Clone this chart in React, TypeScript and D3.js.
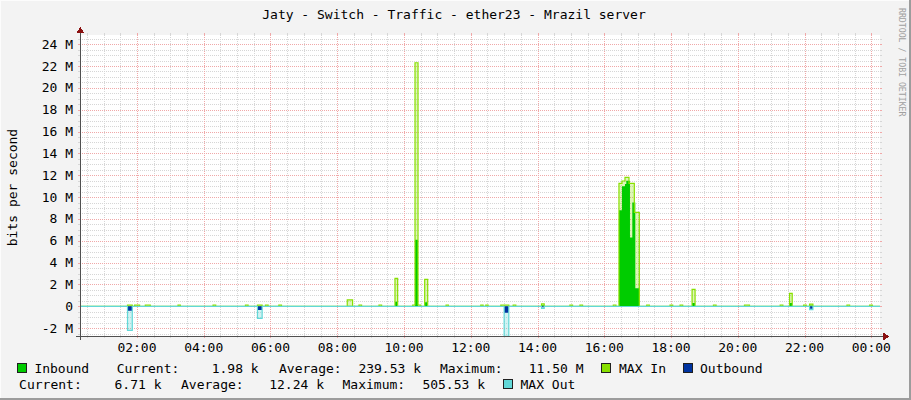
import React from 'react';
import * as d3 from 'd3';

const W = 911;
const H = 400;

const title = 'Jaty - Switch - Traffic - ether23 - Mrazil server';
const yAxisTitle = 'bits per second';
const credit = 'RRDTOOL / TOBI OETIKER';

const xTickHours = [2, 4, 6, 8, 10, 12, 14, 16, 18, 20, 22, 24];
const xTickLabels = ['02:00', '04:00', '06:00', '08:00', '10:00', '12:00', '14:00', '16:00', '18:00', '20:00', '22:00', '00:00'];
const yTickValues = [-2, 0, 2, 4, 6, 8, 10, 12, 14, 16, 18, 20, 22, 24];
const yTickLabels = ['-2 M', '0', '2 M', '4 M', '6 M', '8 M', '10 M', '12 M', '14 M', '16 M', '18 M', '20 M', '22 M', '24 M'];

// events (hours of day), values in Mbit/s; each value holds from start to end
const evStart = [1.717, 1.93, 2.25, 3.23, 4.28, 5.25, 5.61, 5.85, 6.25, 8.30, 8.65, 9.25, 9.73, 10.26, 10.33, 10.42, 10.62, 11.26, 12.30, 12.45, 12.90, 13.0, 13.27, 14.12, 14.97, 15.27, 16.27,
  16.44, 16.53, 16.62, 16.66, 16.74, 16.77, 16.84, 16.90, 16.93,
  17.27, 17.97, 18.27, 18.63, 19.27, 20.20, 21.27, 21.55, 21.97, 22.15, 23.27, 23.95];
const evEnd = [1.86, 2.08, 2.40, 3.30, 4.36, 5.33, 5.75, 5.93, 6.33, 8.46, 8.73, 9.33, 9.81, 10.33, 10.42, 10.50, 10.71, 11.33, 12.37, 12.52, 13.0, 13.14, 13.35, 14.20, 15.05, 15.35, 16.35,
  16.53, 16.62, 16.66, 16.74, 16.77, 16.84, 16.90, 16.93, 17.05,
  17.35, 18.05, 18.35, 18.72, 19.35, 20.35, 21.35, 21.63, 22.05, 22.25, 23.35, 24.03];
const inboundM = [0.03, 0.04, 0.04, 0.04, 0.04, 0.04, 0.03, 0.04, 0.04, 0.05, 0.04, 0.04, 0.42, 0.04, 6.1, 0.04, 0.37, 0.04, 0.04, 0.04, 0.04, 0.05, 0.04, 0.1, 0.04, 0.04, 0.04,
  8.8, 11.0, 11.2, 11.5, 11.5, 6.3, 9.5, 9.5, 1.65,
  0.04, 0.04, 0.04, 0.3, 0.04, 0.04, 0.04, 0.3, 0.04, 0.08, 0.04, 0.04];
const maxInM = [0.1, 0.12, 0.12, 0.12, 0.12, 0.12, 0.1, 0.12, 0.12, 0.58, 0.12, 0.12, 2.56, 0.12, 22.3, 0.12, 2.47, 0.12, 0.12, 0.12, 0.12, 0.12, 0.12, 0.22, 0.12, 0.12, 0.12,
  11.25, 11.47, 11.8, 11.8, 11.25, 11.25, 11.25, 8.6, 8.6,
  0.12, 0.12, 0.12, 1.55, 0.12, 0.12, 0.12, 1.19, 0.12, 0.2, 0.12, 0.12];
const outboundM = [-0.4, 0, 0, 0, 0, 0, -0.34, 0, 0, 0, 0, 0, 0, 0, 0, 0, 0, 0, 0, 0, 0, -0.59, 0, -0.08, 0, 0, 0,
  0, 0, 0, 0, 0, 0, 0, 0, 0,
  0, 0, 0, 0, 0, 0, 0, 0, 0, -0.22, 0, 0];
const maxOutM = [-2.2, -0.02, -0.02, -0.02, -0.02, -0.02, -1.1, -0.02, -0.02, -0.02, -0.02, -0.02, -0.02, -0.02, -0.02, -0.02, -0.02, -0.02, -0.02, -0.02, -0.02, -3.5, -0.02, -0.2, -0.02, -0.02, -0.02,
  -0.02, -0.02, -0.02, -0.02, -0.02, -0.02, -0.02, -0.02, -0.02,
  -0.02, -0.02, -0.02, -0.02, -0.02, -0.02, -0.02, -0.02, -0.02, -0.3, -0.02, -0.02];

const inboundStats = ['1.98 k', '239.53 k', '11.50 M'];
const outboundStats = ['6.71 k', '12.24 k', '505.53 k'];

const C = {
  back: '#f3f3f3',
  canvas: '#ffffff',
  inbound: '#00cc00',
  maxIn: '#88e000',
  outbound: '#0033a0',
  maxOut: '#62d8d8',
  grid: '#d6d6d6',
  mgrid: '#f0a8a8',
  axis: '#505050',
  arrow: '#8b1010',
  font: '#000000',
};

const FONT = "'DejaVu Sans Mono', monospace";

const PL = 80, PR = 880, PT = 35, PB = 336;
const T0 = 0.294, T1 = 24.26;

type Pt = [number, number];

function buildSeries(vals: number[], base: number): Pt[] {
  const pts: Pt[] = [[T0, base]];
  for (let i = 0; i < evStart.length; i++) {
    pts.push([evStart[i], vals[i]]);
    const nextStart = i + 1 < evStart.length ? evStart[i + 1] : Infinity;
    if (nextStart > evEnd[i] + 1e-9) pts.push([evEnd[i], base]);
  }
  pts.push([T1, base]);
  return pts;
}

export default function App() {
  const x = d3.scaleLinear().domain([T0, T1]).range([PL, PR]);
  const y = d3.scaleLinear().domain([-2.72, 24.84]).range([PB, PT]);

  const area = d3.area<Pt>().x(d => x(d[0])).y0(y(0)).y1(d => y(Math.max(-2.72, d[1]))).curve(d3.curveStepAfter);
  const line = d3.line<Pt>().x(d => x(d[0])).y(d => y(Math.max(-2.75, d[1]))).curve(d3.curveStepAfter);

  const inS = buildSeries(inboundM, 0);
  const maxInS = buildSeries(maxInM, 0);
  const outS = buildSeries(outboundM, 0);
  const maxOutS = buildSeries(maxOutM, 0);

  const minorX: number[] = [];
  for (let h = Math.ceil(T0 * 2) / 2; h <= T1; h += 0.5) if (Math.abs(h / 2 - Math.round(h / 2)) > 1e-6) minorX.push(h);
  const minorY: number[] = [];
  for (let v = -2.5; v <= 24.5; v += 0.5) if (Math.abs(v / 2 - Math.round(v / 2)) > 1e-6) minorY.push(v);

  const row1 = 368, row2 = 384;
  const fs = 13;

  const legendText = (xx: number, yy: number, s: string, key: string) => (
    <text key={key} x={xx} y={yy} dy="0.35em" fontFamily={FONT} fontSize={fs} fill={C.font} style={{ whiteSpace: 'pre' }}>{s}</text>
  );
  const swatch = (xx: number, yy: number, color: string, key: string) => (
    <rect key={key} x={xx + 0.5} y={yy - 4.5} width={9} height={9} fill={color} stroke="#202020" strokeWidth={1} />
  );

  return (
    <svg width={W} height={H} style={{ position: 'absolute', left: 0, top: 0 }} shapeRendering="crispEdges">
      <rect x={0} y={0} width={W} height={H} fill={C.back} />
      {/* frame */}
      <line x1={0} y1={0.5} x2={W} y2={0.5} stroke="#fcfcfc" />
      <line x1={0.5} y1={0} x2={0.5} y2={H} stroke="#fcfcfc" />
      <rect x={W - 2} y={0} width={2} height={H} fill="#9c9c9c" />
      <rect x={0} y={H - 2} width={W} height={2} fill="#9c9c9c" />

      <text x={454} y={14} dy="0.35em" textAnchor="middle" fontFamily={FONT} fontSize={fs} fill={C.font}>{title}</text>
      <text transform={`translate(902,8) rotate(90)`} dy="0.35em" fontFamily={FONT} fontSize={8.2} fill="#a0a0a0">{credit}</text>
      <text transform={`translate(12,${(PT + PB) / 2 + 2}) rotate(-90)`} dy="0.35em" textAnchor="middle" fontFamily={FONT} fontSize={fs} fill={C.font}>{yAxisTitle}</text>

      <rect x={PL} y={PT} width={PR - PL} height={PB - PT} fill={C.canvas} />

      {/* minor grid */}
      {minorX.map(h => (
        <g key={'mx' + h}>
          <line x1={Math.round(x(h)) + 0.5} x2={Math.round(x(h)) + 0.5} y1={PT} y2={PB} stroke={C.grid} strokeDasharray="1 1" />
          <line x1={Math.round(x(h)) + 0.5} x2={Math.round(x(h)) + 0.5} y1={PT - 2} y2={PT} stroke={C.grid} />
          <line x1={Math.round(x(h)) + 0.5} x2={Math.round(x(h)) + 0.5} y1={PB} y2={PB + 2} stroke={C.grid} />
        </g>
      ))}
      {minorY.map(v => (
        <g key={'my' + v}>
          <line x1={PL} x2={PR} y1={Math.round(y(v)) + 0.5} y2={Math.round(y(v)) + 0.5} stroke={C.grid} strokeDasharray="1 1" />
          <line x1={PL - 2} x2={PL} y1={Math.round(y(v)) + 0.5} y2={Math.round(y(v)) + 0.5} stroke={C.grid} />
          <line x1={PR} x2={PR + 2} y1={Math.round(y(v)) + 0.5} y2={Math.round(y(v)) + 0.5} stroke={C.grid} />
        </g>
      ))}
      {/* major grid */}
      {xTickHours.map(h => (
        <g key={'Mx' + h}>
          <line x1={Math.round(x(h)) + 0.5} x2={Math.round(x(h)) + 0.5} y1={PT} y2={PB} stroke={C.mgrid} strokeDasharray="1 1" />
          <line x1={Math.round(x(h)) + 0.5} x2={Math.round(x(h)) + 0.5} y1={PT - 2} y2={PT} stroke={C.mgrid} />
          <line x1={Math.round(x(h)) + 0.5} x2={Math.round(x(h)) + 0.5} y1={PB} y2={PB + 2} stroke={C.mgrid} />
        </g>
      ))}
      {yTickValues.map(v => (
        <g key={'My' + v}>
          <line x1={PL} x2={PR} y1={Math.round(y(v)) + 0.5} y2={Math.round(y(v)) + 0.5} stroke={C.mgrid} strokeDasharray="1 1" />
          <line x1={PL - 2} x2={PL} y1={Math.round(y(v)) + 0.5} y2={Math.round(y(v)) + 0.5} stroke={C.mgrid} />
          <line x1={PR} x2={PR + 2} y1={Math.round(y(v)) + 0.5} y2={Math.round(y(v)) + 0.5} stroke={C.mgrid} />
        </g>
      ))}

      {/* data */}
      <g shapeRendering="auto">
        <path d={area(maxInS) || ''} fill={C.maxIn} fillOpacity={0.28} />
        <path d={area(inS) || ''} fill={C.inbound} />
        <path d={line(maxInS) || ''} fill="none" stroke={C.maxIn} strokeWidth={1.2} />
        <path d={area(maxOutS) || ''} fill={C.maxOut} fillOpacity={0.3} />
        <path d={area(outS) || ''} fill={C.outbound} />
        <path d={line(maxOutS) || ''} fill="none" stroke={C.maxOut} strokeWidth={1.2} />
      </g>

      {/* axes */}
      <line x1={PL - 4} x2={PR + 4} y1={PB + 0.5} y2={PB + 0.5} stroke={C.axis} />
      <path d={`M${PR + 3},${PB - 3.5} L${PR + 9},${PB + 0.5} L${PR + 3},${PB + 4.5} Z`} fill={C.arrow} />
      <line x1={PL + 0.5} x2={PL + 0.5} y1={PB + 4} y2={PT - 3} stroke={C.axis} />
      <path d={`M${PL - 3.5},${PT - 2} L${PL + 0.5},${PT - 8} L${PL + 4.5},${PT - 2} Z`} fill={C.arrow} />

      {/* tick labels */}
      {yTickValues.map((v, i) => (
        <text key={'yl' + v} x={73} y={y(v)} dy="0.35em" textAnchor="end" fontFamily={FONT} fontSize={fs} fill={C.font} style={{ whiteSpace: 'pre' }}>{yTickLabels[i]}</text>
      ))}
      {xTickHours.map((h, i) => (
        <text key={'xl' + h} x={x(h)} y={347} dy="0.35em" textAnchor="middle" fontFamily={FONT} fontSize={fs} fill={C.font}>{xTickLabels[i]}</text>
      ))}

      {/* legend */}
      {swatch(17, row1, C.inbound, 's1')}
      {legendText(34.4, row1, 'Inbound', 't1')}
      {legendText(116.7, row1, 'Current:', 't2')}
      <text x={258.7} y={row1} dy="0.35em" textAnchor="end" fontFamily={FONT} fontSize={fs}>{inboundStats[0]}</text>
      {legendText(279, row1, 'Average:', 't3')}
      <text x={421} y={row1} dy="0.35em" textAnchor="end" fontFamily={FONT} fontSize={fs}>{inboundStats[1]}</text>
      {legendText(440, row1, 'Maximum:', 't4')}
      <text x={583.6} y={row1} dy="0.35em" textAnchor="end" fontFamily={FONT} fontSize={fs}>{inboundStats[2]}</text>
      {swatch(601, row1, C.maxIn, 's2')}
      {legendText(619, row1, 'MAX In', 't5')}
      {swatch(683, row1, C.outbound, 's3')}
      {legendText(700, row1, 'Outbound', 't6')}

      {legendText(19.1, row2, 'Current:', 't7')}
      <text x={161.5} y={row2} dy="0.35em" textAnchor="end" fontFamily={FONT} fontSize={fs}>{outboundStats[0]}</text>
      {legendText(181, row2, 'Average:', 't8')}
      <text x={324} y={row2} dy="0.35em" textAnchor="end" fontFamily={FONT} fontSize={fs}>{outboundStats[1]}</text>
      {legendText(342.5, row2, 'Maximum:', 't9')}
      <text x={485} y={row2} dy="0.35em" textAnchor="end" fontFamily={FONT} fontSize={fs}>{outboundStats[2]}</text>
      {swatch(502.5, row2, C.maxOut, 's4')}
      {legendText(520.5, row2, 'MAX Out', 't10')}
    </svg>
  );
}
